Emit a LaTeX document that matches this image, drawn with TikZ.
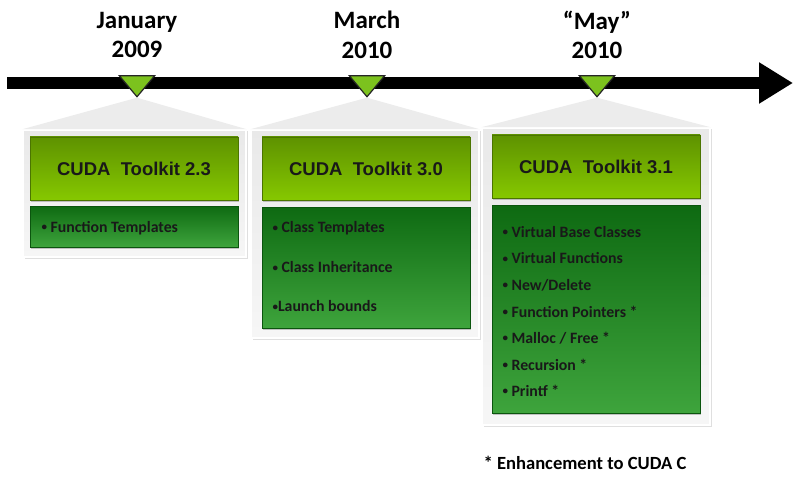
\documentclass[tikz,border=0pt]{standalone}
\usepackage{fontspec}
\setmainfont{Carlito}
\newfontfamily\headfont{Liberation Sans}
\usepackage{xcolor}
\usetikzlibrary{calc,arrows.meta,shapes,positioning,shadows}

\definecolor{hdtop}{HTML}{5E9200}
\definecolor{hdbot}{HTML}{86C800}
\definecolor{lstop}{HTML}{0E6A12}
\definecolor{lsbot}{HTML}{3EA43C}
\definecolor{mark}{HTML}{7CC21E}
\definecolor{panel}{HTML}{E9E9E9}

\newcommand{\bul}{\raisebox{1.6pt}{\fontsize{11}{12}\selectfont\textbullet}}

\begin{document}
\begin{tikzpicture}[x=1pt,y=-1pt,
    panelbox/.style={draw=white, line width=1.5pt, top color=panel, bottom color=panel!40,
        drop shadow={shadow xshift=1.5pt, shadow yshift=-1.5pt, fill=black!25}},
    headbox/.style={draw=hdtop!80!black, line width=0.4pt, top color=hdtop, bottom color=hdbot,
        minimum width=208pt, minimum height=63pt, inner sep=0pt,
        font=\headfont\bfseries\fontsize{18.5}{20}\selectfont, text=black!90,
        drop shadow={shadow xshift=1pt, shadow yshift=-1.5pt, fill=black!45}},
    listbox/.style={draw=lstop!80!black, line width=0.4pt, top color=lstop, bottom color=lsbot,
        minimum width=208pt, inner sep=0pt,
        drop shadow={shadow xshift=1pt, shadow yshift=-1.5pt, fill=black!45}},
    item/.style={anchor=west, font=\bfseries\fontsize{15.8}{17}\selectfont, text=black!90},
    datelabel/.style={align=center, font=\bfseries\fontsize{25}{29.5}\selectfont},
    marker/.style={isosceles triangle, shape border rotate=-90, isosceles triangle apex angle=80,
        draw=black!85, line width=1.2pt, fill=mark, minimum width=25pt, minimum height=21pt, inner sep=0pt}
]
\useasboundingbox (0,0) rectangle (810,481);

% Timeline
\coordinate (tstart) at (7,83);
\coordinate (tend) at (793,83);
\draw[line width=12pt, -{Triangle[width=39pt,length=34pt]}] (tstart) -- (tend);

% Date labels
\node[datelabel] (d1) at (137,35) {January\\2009};
\node[datelabel] (d2) at (367,35) {March\\2010};
\node[datelabel] (d3) at (597,35) {``May''\\2010};

% Grey panels
\node[panelbox, minimum width=223pt, minimum height=127pt] (p1) at (134.5,193.5) {};
\node[panelbox, minimum width=228pt, minimum height=208pt] (p2) at (365,234) {};
\node[panelbox, minimum width=228pt, minimum height=297pt] (p3) at (596,276.5) {};

% Markers on the timeline
\node[marker] (m1) at (137,84) {};
\node[marker] (m2) at (367,84) {};
\node[marker] (m3) at (597,84) {};

% Callouts from the markers down to the panels
\fill[panel!85!white] (m1.apex) -- (p1.north east) -- (p1.north west) -- cycle;
\fill[panel!85!white] (m2.apex) -- (p2.north east) -- (p2.north west) -- cycle;
\fill[panel!85!white] (m3.apex) -- (p3.north east) -- (p3.north west) -- cycle;

% Toolkit 2.3
\node[headbox] (h1) at (134,168.5) {CUDA\ \ Toolkit 2.3};
\node[listbox, minimum height=41pt] (l1) at (134,226.5) {};
\node[item] (f1) at (38,228) {\bul\ Function Templates};

% Toolkit 3.0
\node[headbox] (h2) at (366,168.5) {CUDA\ \ Toolkit 3.0};
\node[listbox, minimum height=121pt] (l2) at (366,267.5) {};
\node[item] (c1) at (269,228.5) {\bul\ Class Templates};
\node[item] (c2) at (269,267.5) {\bul\ Class Inheritance};
\node[item] (c3) at (269,306.5) {\bul Launch bounds};

% Toolkit 3.1
\node[headbox] (h3) at (596,166.5) {CUDA\ \ Toolkit 3.1};
\node[listbox, minimum height=208pt] (l3) at (596,309) {};
\node[item] (v1) at (499,232) {\bul\ Virtual Base Classes};
\node[item] (v2) at (499,258.5) {\bul\ Virtual Functions};
\node[item] (v3) at (499,285) {\bul\ New/Delete};
\node[item] (v4) at (499,311.5) {\bul\ Function Pointers *};
\node[item] (v5) at (499,338) {\bul\ Malloc / Free *};
\node[item] (v6) at (499,364.5) {\bul\ Recursion *};
\node[item] (v7) at (499,391) {\bul\ Printf *};

% Footnote
\node[anchor=west, font=\bfseries\fontsize{18.6}{20}\selectfont] (note) at (480,463) {*\ Enhancement to CUDA C};

\end{tikzpicture}
\end{document}
